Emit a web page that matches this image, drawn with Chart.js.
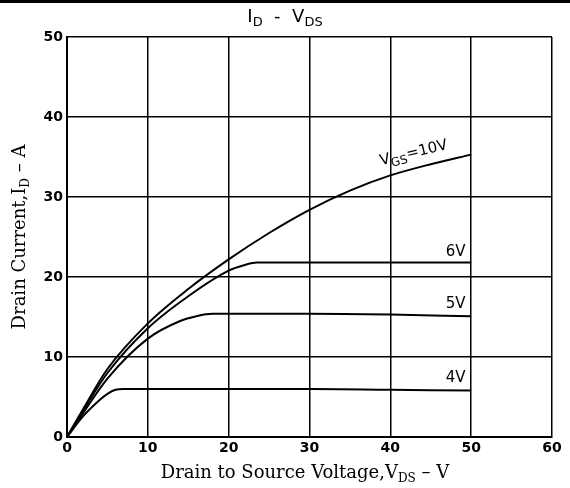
<!DOCTYPE html>
<html>
<head>
<meta charset="utf-8">
<script src="https://cdn.jsdelivr.net/npm/chart.js@4.4.1/dist/chart.umd.min.js"></script>
<style>
  html, body { margin: 0; padding: 0; background: #fff; }
  #wrap { width: 570px; height: 488px; }
</style>
</head>
<body>
<div id="wrap"><canvas id="myChart" width="570" height="488"></canvas></div>
<script>
// curves (VDS in V, ID in A)
var vds10 = [0, 2, 5, 10, 15, 20, 25, 30, 35, 40, 45, 50];
var id10  = [0, 3.5, 8.5, 14.2, 18.5, 22.2, 25.5, 28.4, 30.8, 32.7, 34.1, 35.3];

var vds6 = [0, 2, 5, 10, 15, 20, 22, 23.5, 30, 40, 50];
var id6  = [0, 3.3, 8.0, 13.6, 17.6, 20.8, 21.5, 21.8, 21.8, 21.8, 21.8];

var vds5 = [0, 2, 5, 10, 14, 16, 18, 30, 40, 50];
var id5  = [0, 3.0, 7.3, 12.3, 14.5, 15.1, 15.4, 15.4, 15.3, 15.1];

var vds4 = [0, 2, 4, 5, 6, 7, 20, 30, 40, 50];
var id4  = [0, 2.6, 4.6, 5.4, 5.9, 6.0, 6.0, 6.0, 5.9, 5.8];

var xTicks = [0, 10, 20, 30, 40, 50, 60];
var yTicks = [0, 10, 20, 30, 40, 50];

function pts(xs, ys) {
    return xs.map(function (x, i) { return { x: x, y: ys[i] }; });
}

function series(xs, ys) {
    return {
        data: pts(xs, ys),
        borderColor: '#000',
        borderWidth: 2,
        pointRadius: 0,
        fill: false,
        cubicInterpolationMode: 'monotone',
        showLine: true
    };
}

// text with subscripts: parts = [[text, isSub], ...]
function drawSub(ctx, parts, x, y, font, subFont, align) {
    ctx.save();
    var w = 0;
    parts.forEach(function (p) {
        ctx.font = p[1] ? subFont : font;
        w += ctx.measureText(p[0]).width;
    });
    var cx = align == 'center' ? x - w / 2 : (align == 'right' ? x - w : x);
    ctx.textBaseline = 'alphabetic';
    ctx.textAlign = 'left';
    parts.forEach(function (p) {
        ctx.font = p[1] ? subFont : font;
        ctx.fillText(p[0], cx, y + (p[1] ? 4 : 0));
        cx += ctx.measureText(p[0]).width;
    });
    ctx.restore();
}

var labelsPlugin = {
    id: 'labels',
    afterDraw: function (chart) {
        var ctx = chart.ctx;
        var xs = chart.scales.x, ys = chart.scales.y;
        ctx.fillStyle = '#000';

        // thick top rule
        ctx.fillRect(0, 0, 570, 3);

        // title
        drawSub(ctx, [['I', false], ['D', true], ['  -  V', false], ['DS', true]],
            285, 22, '18px "DejaVu Sans"', '13px "DejaVu Sans"', 'center');

        // x title
        drawSub(ctx, [['Drain to Source Voltage,V', false], ['DS', true], [' \u2013 V', false]],
            305, 478, '18px "DejaVu Serif"', '12px "DejaVu Serif"', 'center');

        // y title
        ctx.save();
        ctx.translate(25, 237);
        ctx.rotate(-Math.PI / 2);
        drawSub(ctx, [['Drain Current,I', false], ['D', true], [' \u2013 A', false]],
            0, 0, '18px "DejaVu Serif"', '12px "DejaVu Serif"', 'center');
        ctx.restore();

        // curve labels
        ctx.save();
        ctx.translate(xs.getPixelForValue(43), ys.getPixelForValue(35.0));
        ctx.rotate(-0.24);
        drawSub(ctx, [['V', false], ['GS', true], ['=10V', false]],
            0, 0, '15px "DejaVu Sans"', '12px "DejaVu Sans"', 'center');
        ctx.restore();

        var f = '15px "DejaVu Sans"';
        drawSub(ctx, [['6V', false]], xs.getPixelForValue(49.3), ys.getPixelForValue(22.6), f, f, 'right');
        drawSub(ctx, [['5V', false]], xs.getPixelForValue(49.3), ys.getPixelForValue(16.1), f, f, 'right');
        drawSub(ctx, [['4V', false]], xs.getPixelForValue(49.3), ys.getPixelForValue(6.9), f, f, 'right');
    }
};

const ctx = document.getElementById('myChart');

var c = new Chart(ctx, {
    type: 'scatter',
    data: {
        datasets: [
            series(vds10, id10),
            series(vds6, id6),
            series(vds5, id5),
            series(vds4, id4)
        ]
    },
    options: {
        responsive: false,
        animation: false,
        layout: { padding: { top: 37, right: 18, left: 0, bottom: 0 } },
        plugins: {
            legend: { display: false },
            tooltip: { enabled: false }
        },
        scales: {
            x: {
                type: 'linear',
                min: 0,
                max: 60,
                afterBuildTicks: function (s) { s.ticks = xTicks.map(function (v) { return { value: v }; }); },
                afterFit: function (s) { s.height = 51; },
                grid: { color: '#000', lineWidth: 1.5, drawTicks: false },
                border: { color: '#000', width: 2 },
                ticks: {
                    color: '#000',
                    padding: 3,
                    font: { family: 'DejaVu Sans', size: 14, weight: 'bold' }
                }
            },
            y: {
                type: 'linear',
                min: 0,
                max: 50,
                afterBuildTicks: function (s) { s.ticks = yTicks.map(function (v) { return { value: v }; }); },
                afterFit: function (s) { s.width = 67; },
                grid: { color: '#000', lineWidth: 1.5, drawTicks: false },
                border: { color: '#000', width: 2 },
                ticks: {
                    color: '#000',
                    padding: 4,
                    font: { family: 'DejaVu Sans', size: 14, weight: 'bold' }
                }
            }
        }
    },
    plugins: [labelsPlugin]
});
</script>
</body>
</html>
